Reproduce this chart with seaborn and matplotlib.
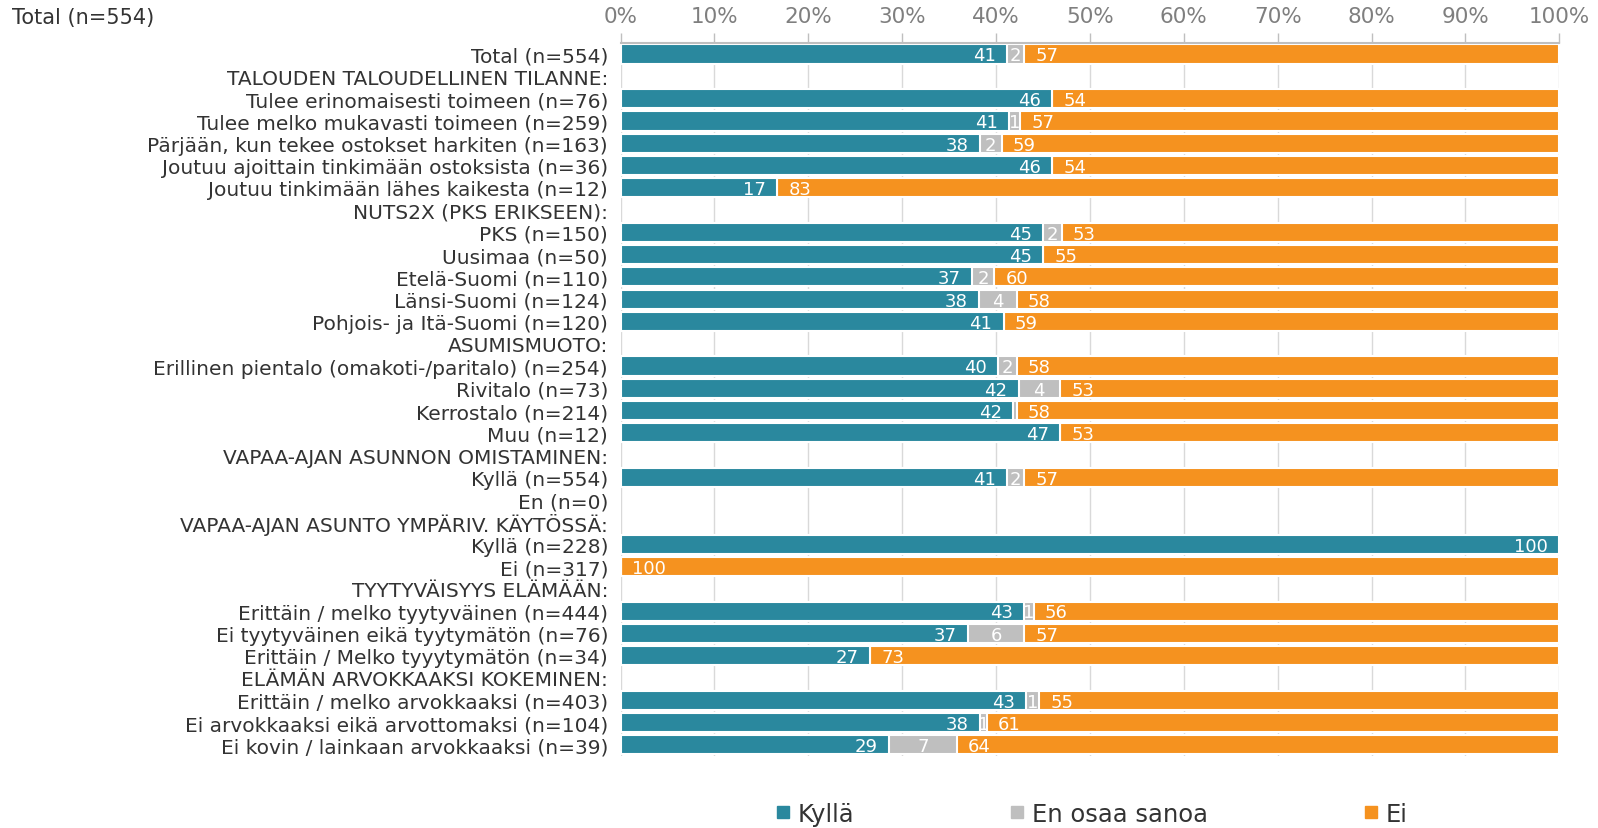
import numpy as np
import pandas as pd
import matplotlib
matplotlib.use("Agg")
import matplotlib.pyplot as plt
from matplotlib.lines import Line2D
import seaborn as sns

# rows of the chart (headers have no values)
labels = [
    "Total (n=554)",
    "TALOUDEN TALOUDELLINEN TILANNE:",
    "Tulee erinomaisesti toimeen (n=76)",
    "Tulee melko mukavasti toimeen (n=259)",
    "Pärjään, kun tekee ostokset harkiten (n=163)",
    "Joutuu ajoittain tinkimään ostoksista (n=36)",
    "Joutuu tinkimään lähes kaikesta (n=12)",
    "NUTS2X (PKS ERIKSEEN):",
    "PKS (n=150)",
    "Uusimaa (n=50)",
    "Etelä-Suomi (n=110)",
    "Länsi-Suomi (n=124)",
    "Pohjois- ja Itä-Suomi (n=120)",
    "ASUMISMUOTO:",
    "Erillinen pientalo (omakoti-/paritalo) (n=254)",
    "Rivitalo (n=73)",
    "Kerrostalo (n=214)",
    "Muu (n=12)",
    "VAPAA-AJAN ASUNNON OMISTAMINEN:",
    "Kyllä (n=554)",
    "En (n=0)",
    "VAPAA-AJAN ASUNTO YMPÄRIV. KÄYTÖSSÄ:",
    "Kyllä (n=228)",
    "Ei (n=317)",
    "TYYTYVÄISYYS ELÄMÄÄN:",
    "Erittäin / melko tyytyväinen (n=444)",
    "Ei tyytyväinen eikä tyytymätön (n=76)",
    "Erittäin / Melko tyyytymätön (n=34)",
    "ELÄMÄN ARVOKKAAKSI KOKEMINEN:",
    "Erittäin / melko arvokkaaksi (n=403)",
    "Ei arvokkaaksi eikä arvottomaksi (n=104)",
    "Ei kovin / lainkaan arvokkaaksi (n=39)",
]
nan = np.nan
kylla = [41.2, nan, 46.0, 41.4, 38.3, 46.0, 16.7, nan, 45.0, 45.0, 37.4, 38.2, 40.8,
         nan, 40.2, 42.4, 41.8, 46.8, nan, 41.2, nan, nan, 100.0, 0.0, nan,
         43.0, 37.0, 26.6, nan, 43.2, 38.3, 28.6]
eos = [1.8, nan, 0.0, 1.2, 2.3, 0.0, 0.0, nan, 2.0, 0.0, 2.4, 4.0, 0.0,
       nan, 2.0, 4.4, 0.4, 0.0, nan, 1.8, nan, nan, 0.0, 0.0, nan,
       1.0, 6.0, 0.0, nan, 1.4, 0.7, 7.2]
ei = [57.0, nan, 54.0, 57.4, 59.4, 54.0, 83.3, nan, 53.0, 55.0, 60.2, 57.8, 59.2,
      nan, 57.8, 53.2, 57.8, 53.2, nan, 57.0, nan, nan, 0.0, 100.0, nan,
      56.0, 57.0, 73.4, nan, 55.4, 61.0, 64.2]

series = ["Kyllä", "En osaa sanoa", "Ei"]
colors = ["#2a889e", "#bfbfbf", "#f5921f"]

df = pd.DataFrame({"label": labels, "Kyllä": kylla, "En osaa sanoa": eos, "Ei": ei})
df["c1"] = df["Kyllä"]
df["c2"] = df["Kyllä"] + df["En osaa sanoa"]
df["c3"] = df["c2"] + df["Ei"]

sns.set_style("white")
plt.rcParams["font.family"] = ["DejaVu Sans"]

fig = plt.figure(figsize=(15.98, 8.29), dpi=100)
ax = fig.add_axes([0.3883, 0.0869, 0.5875, 0.8601])

# stack by drawing cumulative bars back to front
for col, c in zip(["c3", "c2", "c1"], colors[::-1]):
    sns.barplot(data=df, x=col, y="label", order=labels, color=c, width=0.86,
                edgecolor="white", linewidth=1.5, errorbar=None, ax=ax,
                saturation=1)

# value labels
for i, row in df.iterrows():
    if np.isnan(row["Kyllä"]):
        continue
    k, e, n = row["Kyllä"], row["En osaa sanoa"], row["Ei"]
    yy = i + 0.06
    if round(k) > 0:
        ax.text(k - 1.2, yy, f"{round(k)}", color="white", ha="right", va="center",
                fontsize=13)
    if round(e) > 0:
        ax.text(k + e / 2, yy, f"{round(e)}", color="white", ha="center", va="center",
                fontsize=13)
    if round(n) > 0:
        ax.text(k + e + 1.2, yy, f"{round(n)}", color="white", ha="left", va="center",
                fontsize=13)

ax.set_xlim(0, 100)
ax.set_ylim(len(labels) - 0.5, -0.5)
ax.set_xticks(np.arange(0, 101, 10))
ax.set_xticklabels([f"{v}%" for v in range(0, 101, 10)])
ax.xaxis.tick_top()
ax.tick_params(axis="x", direction="out", length=7, color="#bfbfbf", width=1,
               labelcolor="#7f7f7f", labelsize=15.5, pad=5)
ax.tick_params(axis="y", length=0, labelsize=14.5, labelcolor="#333333", pad=9)
ax.set_xlabel("")
ax.set_ylabel("")
ax.grid(axis="x", color="#d9d9d9", linewidth=1)
ax.set_axisbelow(True)
for s in ["left", "right", "bottom"]:
    ax.spines[s].set_visible(False)
ax.spines["top"].set_color("#bfbfbf")
ax.spines["top"].set_linewidth(1.5)

fig.text(0.0075, 0.978, "Total (n=554)", fontsize=15, color="#333333",
         ha="left", va="center")

handles = [Line2D([], [], marker="s", linestyle="none", markersize=9,
                  markerfacecolor=c, markeredgecolor=c) for c in colors]
fig.legend(handles, series, loc="center", bbox_to_anchor=(0.683, 0.017), ncol=3,
           frameon=False, fontsize=17.5, handlelength=0.6, handletextpad=0.3,
           columnspacing=6.4, labelcolor="#333333")

fig.savefig("out.png", dpi=100)
